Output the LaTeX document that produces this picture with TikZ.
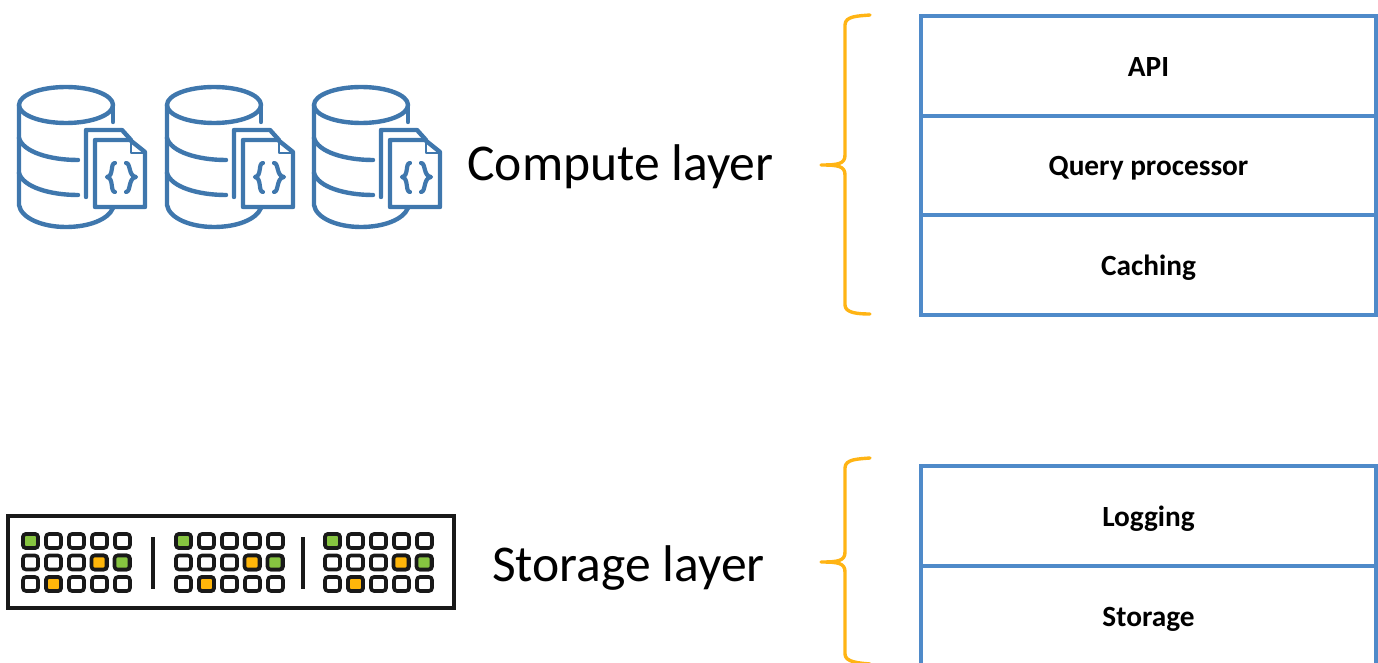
\documentclass[tikz,border=0pt]{standalone}
\usepackage{fontspec}
\setmainfont{Carlito}
\definecolor{iconblue}{HTML}{3F77AD}
\definecolor{tableblue}{HTML}{4F8AC9}
\definecolor{braceorange}{HTML}{FFB414}
\definecolor{ledgreen}{HTML}{86C440}
\definecolor{ledamber}{HTML}{FFB60A}
\tikzset{
  x=1pt,y=-1pt,
  iconline/.style={draw=iconblue,line width=4.4pt,line cap=round,line join=round},
  curly/.style={draw=braceorange,line width=3.4pt,line cap=round,line join=round},
  cell/.style={draw=tableblue,line width=3.2pt,rectangle,outer sep=0pt,minimum width=455pt,minimum height=100pt,inner sep=0pt,text height=21pt,text depth=0pt,font=\fontsize{29.3}{33}\selectfont\bfseries,text=black},
  layerlabel/.style={font=\fontsize{51.6}{58}\selectfont,text=black,inner sep=0pt},
  led/.style={draw=black!90,line width=3.6pt,rounded corners=3pt,fill=white},
  pics/dbicon/.style={code={
    \draw[iconline] (66,105) ellipse [x radius=47,y radius=18];
    \draw[iconline] (19,105) -- (19,205) .. controls (21,218) and (42,227) .. (66,227) .. controls (88,227) and (108,220) .. (113,208);
    \draw[iconline] (113,105) -- (113,122);
    \draw[iconline] (19,138) .. controls (23,152) and (50,160) .. (78,160);
    \draw[iconline] (19,173) .. controls (23,187) and (50,195) .. (78,195);
    \draw[iconline] (86,197) -- (86,130) -- (122,130) -- (131,140);
    \draw[iconline] (95,207) -- (95,140) -- (130,140) -- (145,152) -- (145,207) -- cycle;
    \draw[iconline,line width=2.6pt] (131,141) -- (131,153) -- (144,153);
    \draw[iconline,line width=4.2pt] (115,163) .. controls (110,163) and (114,176) .. (107,177) .. controls (114,178) and (110,192) .. (115,192);
    \draw[iconline,line width=4.2pt] (126,163) .. controls (131,163) and (128,176) .. (136,177) .. controls (128,178) and (131,192) .. (126,192);
  }},
  pics/ledgroup/.style={code={
    \foreach \cx in {0,1,2,3,4} \foreach \cy in {0,1,2}
      \draw[led] (30.5+23*\cx-7.5,541+21.5*\cy-7) rectangle ++(15,14);
    \draw[led,fill=ledgreen] (23,534) rectangle ++(15,14);
    \draw[led,fill=ledamber] (91.5,555.5) rectangle ++(15,14);
    \draw[led,fill=ledgreen] (114.5,555.5) rectangle ++(15,14);
    \draw[led,fill=ledamber] (46,577) rectangle ++(15,14);
  }}
}
\begin{document}
\begin{tikzpicture}
\useasboundingbox (0,0) rectangle (1378,663);
\clip (0,0) rectangle (1378,663);
% database icons
\pic at (0,0) {dbicon};
\pic at (148,0) {dbicon};
\pic at (295,0) {dbicon};
% storage rack
\node[draw=black!90,line width=3.4pt,rectangle,outer sep=0pt,minimum width=446pt,minimum height=92pt,inner sep=0pt,anchor=north west] (rack) at (8,516) {};
\pic at (0,0) {ledgroup};
\pic at (153,0) {ledgroup};
\pic at (302,0) {ledgroup};
\coordinate (d1a) at (153,537); \coordinate (d1b) at (153,589);
\coordinate (d2a) at (303,537); \coordinate (d2b) at (303,589);
\draw[black!90,line width=3.2pt] (d1a) -- (d1b);
\draw[black!90,line width=3.2pt] (d2a) -- (d2b);
% labels
\node[layerlabel,anchor=center] (compute) at (620.5,167) {Compute layer};
\node[layerlabel,anchor=center] (storage) at (628.5,568) {Storage layer};
% braces
\draw[curly] (870,15) .. controls (858,16) and (845,16) .. (845,25) -- (845,155) .. controls (845,164) and (838,165) .. (821,165) .. controls (838,165) and (845,166) .. (845,175) -- (845,305) .. controls (845,313) and (858,314) .. (870,314);
\draw[curly] (870,458) .. controls (858,459) and (845,459) .. (845,468) -- (845,552) .. controls (845,561) and (838,562) .. (821,562) .. controls (838,562) and (845,563) .. (845,572) -- (845,654) .. controls (845,662) and (858,663) .. (870,664);
% tables
\node[cell] (api) at (1148.5,66) {API};
\node[cell,minimum height=99pt] (query) at (1148.5,165.5) {Query processor};
\node[cell] (caching) at (1148.5,265) {Caching};
\node[cell] (logging) at (1148.5,516) {Logging};
\node[cell] (store) at (1148.5,616) {Storage};
\end{tikzpicture}
\end{document}
